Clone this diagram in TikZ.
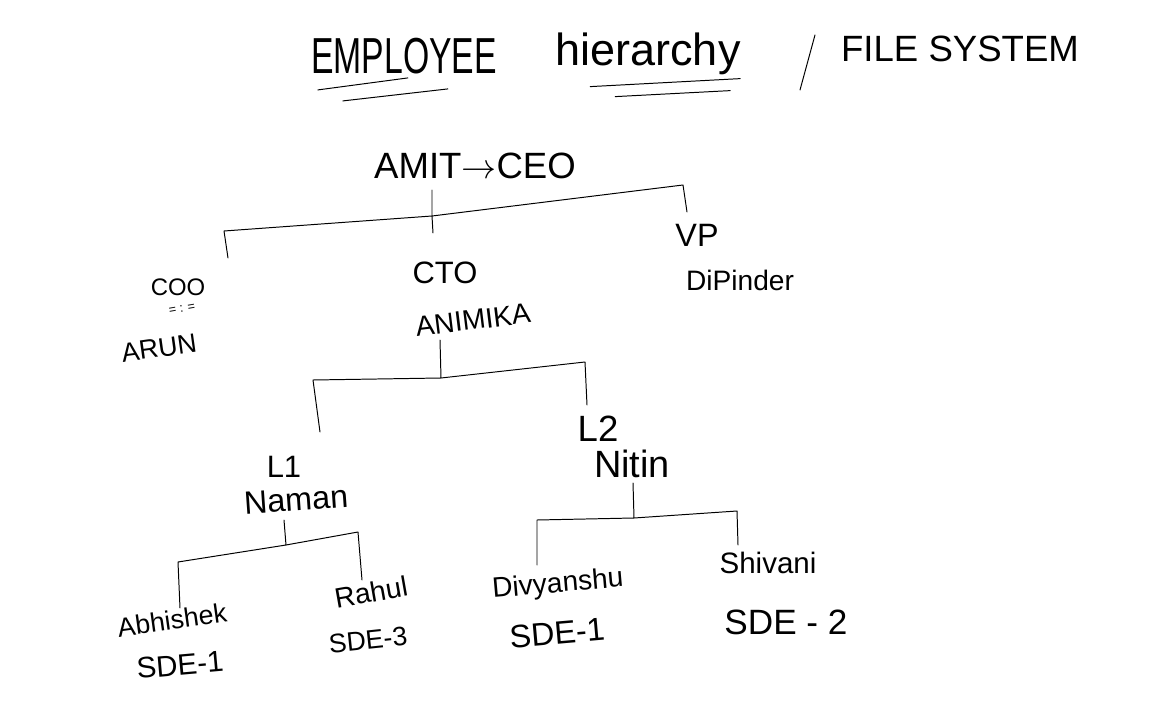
\documentclass[tikz,border=0pt]{standalone}
\usepackage{fontspec}
\setmainfont{Liberation Sans}
\usetikzlibrary{positioning}
\newcommand{\fs}[1]{\fontsize{#1}{#1}\selectfont}

\begin{document}
\begin{tikzpicture}[x=0.025cm,y=-0.025cm,
    lbl/.style={inner sep=0pt,anchor=base},
    link/.style={line width=0.7pt,line cap=round,line join=round}]
  \useasboundingbox (0,0) rectangle (1164,702);
  % title
  \node[lbl,font=\fs{24},yscale=1.5] (emp) at (404,74) {EMPLOYEE};
  \node[lbl,font=\fs{32}] (hier) at (648,66) {hierarchy};
  \node[lbl,font=\fs{26}] (fs) at (960,62) {FILE SYSTEM};
  \draw[link] (emp.south west) ++(7,15) -- ++(90,-12);
  \draw[link] (emp.south west) ++(32,26) -- ++(105,-12);
  \draw[link] (hier.south west) ++(35,11) -- ++(150,-8);
  \draw[link] (hier.south west) ++(60,21) -- ++(115,-6);
  \draw[link] (815,35) -- (800,90);

  % CEO level
  \node[lbl,font=\fs{26}] (ceo) at (475,179) {AMIT$\to$CEO};
  \node[lbl,font=\fs{17}] (coo) at (178,295) {COO};
  \node[inner sep=0pt,font=\fs{9},rotate=10] (marks) at (182,309) {= : =};
  \node[inner sep=0pt,font=\fs{19},rotate=8] (arun) at (159,348) {ARUN};
  \node[lbl,font=\fs{22}] (cto) at (445,283) {CTO};
  \node[inner sep=0pt,font=\fs{20},rotate=7] (animika) at (473,320) {ANIMIKA};
  \node[lbl,font=\fs{23}] (vp) at (697,246) {VP};
  \node[lbl,font=\fs{20}] (dip) at (740,290) {DiPinder};
  \path (432,190) coordinate (ceoS) (432,216) coordinate (ceoJ)
        (224,231) coordinate (cooC) (228,258) coordinate (cooE)
        (683,185) coordinate (vpC) (687,212) coordinate (vpE)
        (433,233) coordinate (ctoE);
  \draw[link] (ceoS) -- (ceoJ) -- (ctoE);
  \draw[link] (ceoJ) -- (cooC) -- (cooE);
  \draw[link] (ceoJ) -- (vpC) -- (vpE);

  % under the CTO
  \node[lbl,font=\fs{22}] (l1) at (284,477) {L1};
  \node[inner sep=0pt,font=\fs{23},rotate=4] (naman) at (296,500) {Naman};
  \node[lbl,font=\fs{26}] (l2) at (598,441) {L2};
  \node[lbl,font=\fs{27}] (nitin) at (632,477) {Nitin};
  \path (440,340) coordinate (ctoS) (441,378) coordinate (ctoJ)
        (313,380) coordinate (l1C) (320,432) coordinate (l1E)
        (585,362) coordinate (l2C) (587,405) coordinate (l2E);
  \draw[link] (ctoS) -- (ctoJ) -- (l1C) -- (l1E);
  \draw[link] (ctoJ) -- (l2C) -- (l2E);

  % under L1
  \node[inner sep=0pt,font=\fs{19},rotate=8] (abh) at (172,620) {Abhishek};
  \node[inner sep=0pt,font=\fs{21},rotate=5] (sdeA) at (180,665) {SDE-1};
  \node[inner sep=0pt,font=\fs{20},rotate=10] (rahul) at (371,592) {Rahul};
  \node[inner sep=0pt,font=\fs{19},rotate=6] (sdeB) at (368,640) {SDE-3};
  \path (284,520) coordinate (l1S) (286,545) coordinate (l1J)
        (178,562) coordinate (abhC) (180,608) coordinate (abhE)
        (358,532) coordinate (rahC) (362,580) coordinate (rahE);
  \draw[link] (l1S) -- (l1J) -- (abhC) -- (abhE);
  \draw[link] (l1J) -- (rahC) -- (rahE);

  % under L2
  \node[inner sep=0pt,font=\fs{20},rotate=5] (div) at (558,585) {Divyanshu};
  \node[inner sep=0pt,font=\fs{23},rotate=5] (sdeC) at (557,633) {SDE-1};
  \node[inner sep=0pt,font=\fs{21}] (shi) at (768,563) {Shivani};
  \node[inner sep=0pt,font=\fs{25}] (sdeD) at (786,622) {SDE - 2};
  \path (633,483) coordinate (l2S) (634,518) coordinate (l2J)
        (537,520) coordinate (divC) (537,565) coordinate (divE)
        (737,511) coordinate (shiC) (738,545) coordinate (shiE);
  \draw[link] (l2S) -- (l2J) -- (divC) -- (divE);
  \draw[link] (l2J) -- (shiC) -- (shiE);
\end{tikzpicture}
\end{document}
